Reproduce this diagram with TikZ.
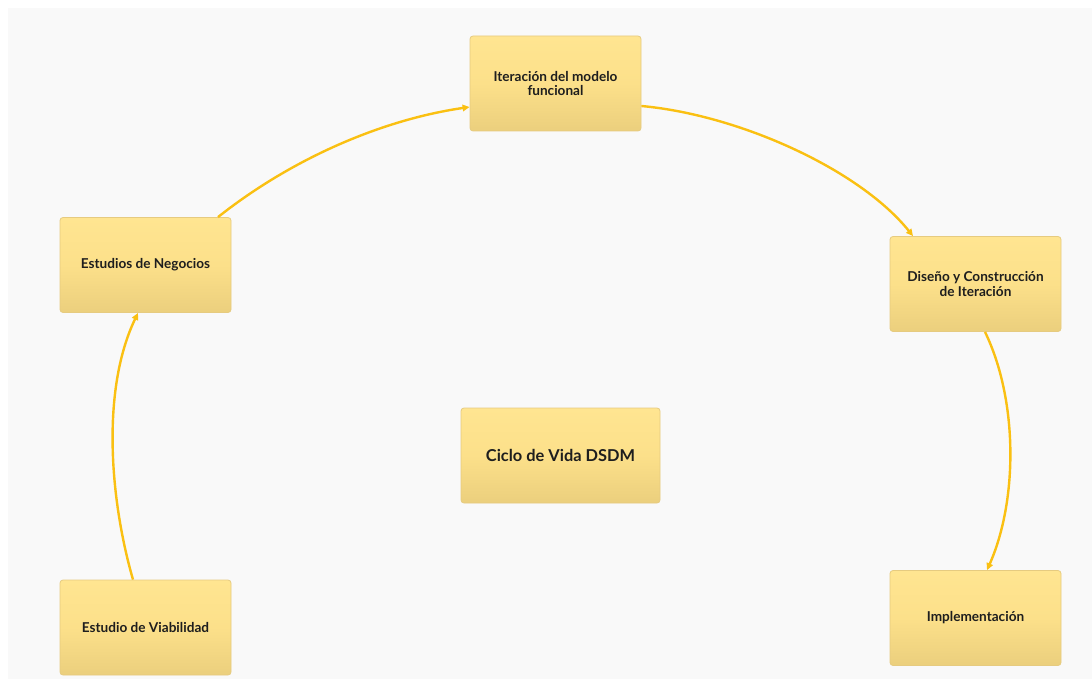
\documentclass[tikz,border=0pt]{standalone}
\usepackage{fontspec}
\setmainfont{Lato}
\usetikzlibrary{arrows.meta}
\definecolor{pagebg}{HTML}{F9F9F9}
\definecolor{boxtop}{HTML}{FFE591}
\definecolor{boxmid}{HTML}{FCE08A}
\definecolor{boxbot}{HTML}{EBCF7D}
\definecolor{boxline}{HTML}{E6CB80}
\definecolor{flow}{HTML}{FAC012}
\definecolor{ink}{HTML}{1E1E1E}
\tikzset{
  phase/.style={draw=boxline, line width=0.8pt, rounded corners=3pt,
    top color=boxtop, bottom color=boxbot, middle color=boxmid,
    minimum width=171pt, minimum height=95pt, inner sep=0pt,
    align=center, text=ink, font=\bfseries\fontsize{13.6}{14.5}\selectfont},
  hub/.style={phase, minimum width=199pt, font=\bfseries\fontsize{16.4}{20}\selectfont},
  flowline/.style={draw=flow, line width=2.4pt,
    -{Triangle[length=7pt,width=6.5pt]}}
}
\begin{document}
\begin{tikzpicture}[x=1pt,y=-1pt]
  \useasboundingbox (0,0) rectangle (1092,679);
  \fill[white] (0,0) rectangle (1092,679);
  \fill[pagebg] (8,8) rectangle (1092,679);

  \node[phase] (iter) at (555.5,83.5) {Iteración del modelo\\funcional};
  \node[phase] (dis)  at (975.5,284) {Diseño y Construcción\\de Iteración};
  \node[phase] (impl) at (975.5,618) {Implementación};
  \node[phase] (neg)  at (145.5,265) {Estudios de Negocios};
  \node[phase] (via)  at (145.5,627.5) {Estudio de Viabilidad};
  \node[hub]   (core) at (560.5,455.5) {Ciclo de Vida DSDM};

  \draw[flowline] ([xshift=-12.5pt]via.north) .. controls (110,500) and (101,390) .. ([xshift=-7.5pt]neg.south);
  \draw[flowline] ([xshift=72.5pt]neg.north) .. controls (290,160) and (380,120) .. ([yshift=-23.5pt]iter.west);
  \draw[flowline] ([yshift=-22.5pt]iter.east) .. controls (740,115) and (860,170) .. ([xshift=-62.5pt]dis.north);
  \draw[flowline] ([xshift=9.5pt]dis.south) .. controls (1018,400) and (1018,500) .. ([xshift=11.5pt]impl.north);
\end{tikzpicture}
\end{document}
